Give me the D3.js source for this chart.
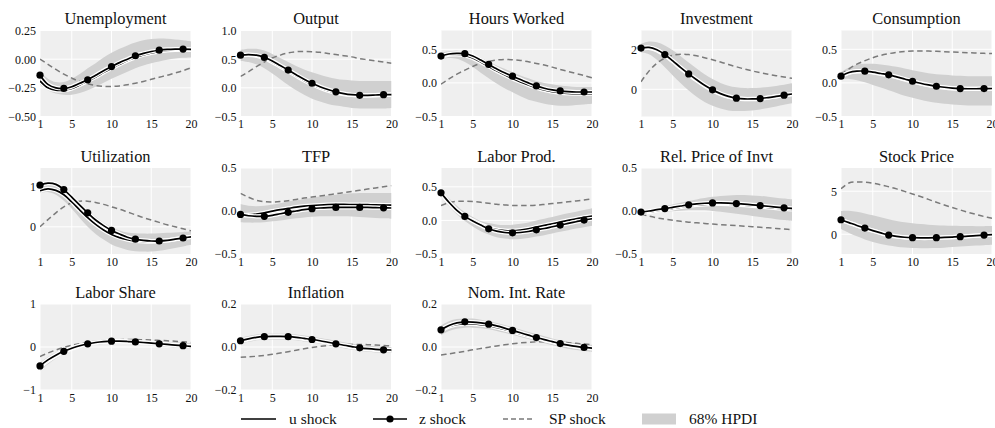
<!DOCTYPE html>
<html>
<head>
<meta charset="utf-8">
<script src="https://cdn.jsdelivr.net/npm/d3@7"></script>
<style>
  html, body { margin: 0; padding: 0; background: #fff; }
  svg { display: block; }
</style>
</head>
<body>
<svg id="chart" width="995" height="428"></svg>
<script>
// Horizon (quarters)
const periods = d3.range(1, 21);
const xTickValues = [1, 5, 10, 15, 20];

// Unemployment
const unempU  = [-0.19,-0.25,-0.27,-0.27,-0.255,-0.225,-0.19,-0.155,-0.115,-0.08,-0.045,-0.012,0.015,0.038,0.055,0.068,0.076,0.08,0.082,0.08];
const unempZ  = [-0.14,-0.22,-0.25,-0.255,-0.24,-0.21,-0.18,-0.14,-0.10,-0.065,-0.03,0.00,0.03,0.05,0.067,0.078,0.085,0.088,0.088,0.085];
const unempSP = [0.00,-0.045,-0.09,-0.13,-0.165,-0.195,-0.215,-0.23,-0.237,-0.238,-0.233,-0.223,-0.21,-0.194,-0.176,-0.158,-0.14,-0.12,-0.1,-0.075];
const unempLo = [-0.22,-0.27,-0.30,-0.31,-0.31,-0.295,-0.27,-0.24,-0.205,-0.17,-0.14,-0.11,-0.08,-0.055,-0.035,-0.02,-0.005,0.005,0.012,0.015];
const unempHi = [-0.11,-0.17,-0.2,-0.2,-0.17,-0.13,-0.08,-0.035,0.015,0.055,0.09,0.12,0.145,0.165,0.175,0.18,0.178,0.172,0.165,0.155];

// Output
const outU  = [0.57,0.575,0.56,0.515,0.45,0.37,0.29,0.21,0.13,0.06,0.0,-0.05,-0.085,-0.11,-0.125,-0.135,-0.135,-0.13,-0.125,-0.12];
const outZ  = [0.57,0.58,0.57,0.53,0.47,0.39,0.31,0.23,0.15,0.08,0.02,-0.03,-0.07,-0.10,-0.12,-0.13,-0.13,-0.125,-0.12,-0.12];
const outSP = [0.2,0.28,0.37,0.45,0.52,0.57,0.61,0.63,0.635,0.63,0.62,0.6,0.58,0.56,0.54,0.51,0.49,0.47,0.45,0.43];
const outLo = [0.47,0.45,0.41,0.34,0.25,0.15,0.05,-0.04,-0.12,-0.19,-0.24,-0.28,-0.31,-0.33,-0.35,-0.36,-0.36,-0.36,-0.36,-0.35];
const outHi = [0.66,0.68,0.68,0.65,0.59,0.52,0.45,0.38,0.32,0.27,0.23,0.19,0.16,0.14,0.13,0.12,0.12,0.12,0.12,0.12];

// Hours Worked
const hoursU  = [0.39,0.42,0.425,0.41,0.37,0.31,0.245,0.18,0.12,0.065,0.015,-0.03,-0.07,-0.105,-0.13,-0.145,-0.155,-0.16,-0.16,-0.16];
const hoursZ  = [0.40,0.43,0.44,0.435,0.40,0.34,0.275,0.21,0.15,0.10,0.05,0.0,-0.045,-0.08,-0.105,-0.12,-0.13,-0.135,-0.135,-0.135];
const hoursSP = [-0.02,0.06,0.13,0.19,0.245,0.29,0.32,0.34,0.35,0.345,0.335,0.315,0.29,0.265,0.235,0.2,0.17,0.14,0.11,0.075];
const hoursLo = [0.35,0.37,0.36,0.31,0.24,0.15,0.07,-0.01,-0.08,-0.14,-0.2,-0.25,-0.28,-0.31,-0.33,-0.34,-0.34,-0.33,-0.32,-0.31];
const hoursHi = [0.45,0.47,0.48,0.46,0.42,0.37,0.32,0.26,0.21,0.16,0.11,0.07,0.03,0.0,-0.02,-0.04,-0.05,-0.06,-0.06,-0.06];

// Investment
const invU  = [2.07,2.1,1.98,1.73,1.41,1.07,0.75,0.45,0.18,-0.05,-0.24,-0.38,-0.46,-0.5,-0.5,-0.47,-0.42,-0.36,-0.3,-0.25];
const invZ  = [2.09,2.12,2.0,1.76,1.44,1.1,0.78,0.48,0.2,-0.03,-0.22,-0.36,-0.45,-0.49,-0.49,-0.47,-0.42,-0.36,-0.3,-0.24];
const invSP = [0.38,0.92,1.32,1.58,1.72,1.78,1.76,1.7,1.6,1.5,1.38,1.26,1.14,1.03,0.93,0.84,0.76,0.69,0.62,0.56];
const invLo = [1.88,1.78,1.5,1.12,0.7,0.3,-0.06,-0.38,-0.64,-0.84,-0.98,-1.07,-1.1,-1.1,-1.07,-1.02,-0.95,-0.87,-0.79,-0.71];
const invHi = [2.3,2.42,2.38,2.22,1.98,1.68,1.36,1.05,0.76,0.52,0.32,0.18,0.1,0.06,0.06,0.08,0.12,0.17,0.23,0.3];

// Consumption
const consU  = [0.095,0.15,0.17,0.17,0.155,0.135,0.113,0.084,0.052,0.02,-0.01,-0.035,-0.055,-0.07,-0.081,-0.088,-0.09,-0.09,-0.088,-0.086];
const consZ  = [0.10,0.155,0.175,0.175,0.16,0.14,0.12,0.09,0.058,0.025,-0.005,-0.03,-0.05,-0.065,-0.077,-0.084,-0.087,-0.087,-0.085,-0.083];
const consSP = [0.13,0.21,0.28,0.33,0.375,0.41,0.435,0.455,0.468,0.474,0.476,0.474,0.47,0.465,0.46,0.455,0.45,0.445,0.44,0.437];
const consLo = [0.05,0.06,0.04,0.01,-0.03,-0.07,-0.11,-0.15,-0.19,-0.22,-0.25,-0.275,-0.295,-0.31,-0.32,-0.33,-0.335,-0.335,-0.335,-0.335];
const consHi = [0.16,0.23,0.27,0.285,0.285,0.275,0.26,0.24,0.215,0.19,0.165,0.145,0.13,0.12,0.11,0.105,0.1,0.1,0.1,0.1];

// Utilization
const utilU  = [0.9,0.95,0.91,0.8,0.62,0.42,0.23,0.06,-0.08,-0.19,-0.27,-0.32,-0.35,-0.365,-0.37,-0.36,-0.34,-0.31,-0.28,-0.25];
const utilZ  = [1.04,1.09,1.06,0.93,0.74,0.54,0.35,0.17,0.03,-0.09,-0.18,-0.26,-0.31,-0.34,-0.355,-0.355,-0.34,-0.31,-0.28,-0.25];
const utilSP = [0.0,0.18,0.35,0.5,0.6,0.64,0.64,0.61,0.56,0.5,0.44,0.37,0.3,0.23,0.17,0.11,0.05,0.0,-0.05,-0.1];
const utilLo = [0.85,0.87,0.8,0.65,0.45,0.22,0.0,-0.18,-0.32,-0.44,-0.52,-0.58,-0.61,-0.62,-0.62,-0.6,-0.57,-0.53,-0.49,-0.45];
const utilHi = [1.05,1.1,1.07,0.95,0.78,0.6,0.42,0.25,0.1,-0.01,-0.09,-0.14,-0.16,-0.17,-0.17,-0.16,-0.15,-0.14,-0.13,-0.12];

// TFP
const tfpU  = [-0.05,-0.045,-0.035,-0.02,-0.002,0.015,0.03,0.045,0.056,0.064,0.07,0.074,0.076,0.076,0.075,0.074,0.073,0.072,0.07,0.068];
const tfpZ  = [-0.04,-0.055,-0.062,-0.062,-0.05,-0.032,-0.015,0.0,0.015,0.027,0.035,0.04,0.042,0.043,0.043,0.042,0.041,0.039,0.037,0.035];
const tfpSP = [0.205,0.16,0.125,0.108,0.105,0.11,0.12,0.135,0.15,0.163,0.175,0.188,0.2,0.215,0.228,0.24,0.255,0.268,0.282,0.295];
const tfpLo = [-0.13,-0.135,-0.135,-0.13,-0.12,-0.11,-0.095,-0.085,-0.075,-0.068,-0.062,-0.06,-0.06,-0.062,-0.065,-0.07,-0.075,-0.08,-0.085,-0.09];
const tfpHi = [0.08,0.06,0.055,0.06,0.075,0.09,0.11,0.125,0.14,0.155,0.17,0.18,0.19,0.2,0.205,0.21,0.21,0.21,0.21,0.21];

// Labor productivity
const lpU  = [0.40,0.26,0.145,0.06,0.0,-0.06,-0.105,-0.135,-0.15,-0.155,-0.145,-0.125,-0.1,-0.075,-0.05,-0.025,0.0,0.025,0.045,0.065];
const lpZ  = [0.41,0.27,0.15,0.06,-0.01,-0.07,-0.125,-0.16,-0.18,-0.185,-0.18,-0.165,-0.14,-0.12,-0.095,-0.07,-0.045,-0.02,0.005,0.025];
const lpSP = [0.22,0.265,0.285,0.285,0.28,0.27,0.255,0.24,0.23,0.222,0.22,0.222,0.228,0.238,0.25,0.263,0.277,0.29,0.305,0.32];
const lpLo = [0.35,0.21,0.09,-0.01,-0.09,-0.16,-0.21,-0.25,-0.27,-0.28,-0.275,-0.26,-0.24,-0.22,-0.195,-0.17,-0.145,-0.12,-0.1,-0.08];
const lpHi = [0.45,0.33,0.22,0.12,0.05,-0.01,-0.04,-0.06,-0.07,-0.065,-0.05,-0.03,0.0,0.025,0.05,0.08,0.105,0.13,0.155,0.18];

// Relative price of investment
const rpiU  = [-0.022,-0.012,0.003,0.016,0.031,0.046,0.06,0.07,0.078,0.082,0.082,0.079,0.074,0.068,0.06,0.051,0.043,0.034,0.025,0.018];
const rpiZ  = [-0.012,0.0,0.015,0.028,0.043,0.058,0.072,0.082,0.09,0.094,0.094,0.091,0.086,0.08,0.072,0.063,0.055,0.046,0.037,0.03];
const rpiSP = [-0.035,-0.06,-0.08,-0.095,-0.108,-0.12,-0.13,-0.138,-0.145,-0.152,-0.158,-0.164,-0.17,-0.176,-0.182,-0.189,-0.196,-0.203,-0.21,-0.217];
const rpiLo = [-0.03,-0.025,-0.018,-0.01,-0.003,0.003,0.008,0.01,0.008,0.0,-0.01,-0.02,-0.032,-0.045,-0.058,-0.07,-0.082,-0.095,-0.105,-0.115];
const rpiHi = [0.0,0.02,0.035,0.055,0.075,0.095,0.115,0.135,0.15,0.165,0.175,0.18,0.185,0.185,0.18,0.175,0.165,0.155,0.145,0.135];

// Stock price
const stockU  = [1.66,1.33,1.0,0.7,0.4,0.13,-0.12,-0.27,-0.37,-0.42,-0.44,-0.44,-0.42,-0.38,-0.34,-0.29,-0.23,-0.17,-0.11,-0.06];
const stockZ  = [1.68,1.35,1.02,0.72,0.42,0.15,-0.1,-0.25,-0.35,-0.4,-0.42,-0.42,-0.4,-0.37,-0.33,-0.28,-0.22,-0.16,-0.1,-0.05];
const stockSP = [5.28,5.95,6.08,6.05,5.93,5.75,5.52,5.27,4.98,4.68,4.38,4.05,3.72,3.4,3.1,2.82,2.55,2.3,2.06,1.85];
const stockLo = [0.6,0.15,-0.25,-0.6,-0.9,-1.13,-1.32,-1.45,-1.55,-1.6,-1.62,-1.62,-1.6,-1.56,-1.5,-1.44,-1.38,-1.32,-1.27,-1.22];
const stockHi = [2.7,2.72,2.6,2.42,2.2,1.98,1.75,1.55,1.4,1.28,1.18,1.1,1.05,1.01,0.98,0.96,0.95,0.94,0.94,0.95];

// Labor share
const lsU  = [-0.47,-0.32,-0.2,-0.11,-0.04,0.02,0.07,0.1,0.12,0.13,0.13,0.125,0.115,0.1,0.088,0.073,0.058,0.044,0.03,0.018];
const lsZ  = [-0.44,-0.3,-0.19,-0.1,-0.03,0.03,0.075,0.105,0.125,0.135,0.135,0.128,0.118,0.105,0.09,0.075,0.06,0.045,0.03,0.015];
const lsSP = [-0.22,-0.14,-0.07,-0.01,0.04,0.08,0.11,0.135,0.152,0.163,0.17,0.173,0.172,0.168,0.162,0.154,0.145,0.133,0.12,0.105];
const lsLo = [-0.55,-0.4,-0.27,-0.17,-0.09,-0.03,0.02,0.05,0.07,0.08,0.08,0.075,0.065,0.05,0.035,0.02,0.0,-0.015,-0.03,-0.045];
const lsHi = [-0.36,-0.23,-0.13,-0.05,0.02,0.075,0.115,0.145,0.165,0.175,0.175,0.17,0.16,0.15,0.14,0.13,0.12,0.11,0.1,0.09];

// Inflation
const inflU  = [0.027,0.036,0.043,0.046,0.047,0.047,0.046,0.043,0.038,0.033,0.027,0.02,0.013,0.006,0.0,-0.006,-0.01,-0.013,-0.015,-0.016];
const inflZ  = [0.029,0.038,0.045,0.048,0.049,0.049,0.048,0.045,0.04,0.035,0.029,0.022,0.015,0.008,0.002,-0.004,-0.008,-0.011,-0.013,-0.014];
const inflSP = [-0.048,-0.046,-0.043,-0.039,-0.034,-0.028,-0.022,-0.015,-0.008,-0.002,0.003,0.007,0.01,0.011,0.012,0.012,0.011,0.009,0.007,0.005];
const inflLo = [0.016,0.024,0.031,0.034,0.035,0.035,0.034,0.031,0.026,0.021,0.015,0.008,0.001,-0.006,-0.012,-0.018,-0.022,-0.025,-0.027,-0.028];
const inflHi = [0.042,0.051,0.058,0.061,0.062,0.062,0.061,0.058,0.053,0.048,0.042,0.036,0.029,0.022,0.016,0.01,0.006,0.003,0.001,0.0];

// Nominal interest rate
const rateU  = [0.075,0.095,0.105,0.108,0.107,0.104,0.099,0.091,0.082,0.072,0.061,0.051,0.041,0.032,0.023,0.015,0.008,0.002,-0.003,-0.006];
const rateZ  = [0.08,0.1,0.112,0.117,0.116,0.112,0.106,0.098,0.088,0.077,0.066,0.055,0.044,0.034,0.025,0.016,0.009,0.003,-0.002,-0.005];
const rateSP = [-0.037,-0.032,-0.026,-0.02,-0.013,-0.007,-0.001,0.005,0.01,0.015,0.019,0.022,0.024,0.025,0.024,0.022,0.02,0.017,0.014,0.011];
const rateLo = [0.055,0.075,0.085,0.09,0.09,0.087,0.082,0.075,0.066,0.057,0.047,0.037,0.027,0.017,0.008,0.0,-0.008,-0.014,-0.019,-0.023];
const rateHi = [0.1,0.12,0.13,0.133,0.132,0.127,0.12,0.112,0.102,0.092,0.081,0.07,0.06,0.05,0.04,0.031,0.024,0.018,0.013,0.01];

// Panel titles, axis limits and tick labels
const titles = ["Unemployment","Output","Hours Worked","Investment","Consumption",
                "Utilization","TFP","Labor Prod.","Rel. Price of Invt","Stock Price",
                "Labor Share","Inflation","Nom. Int. Rate"];
const yDomains = [[-0.5,0.25],[-0.5,1.0],[-0.5,0.78],[-1.38,2.98],[-0.5,0.78],
                  [-0.68,1.47],[-0.5,0.5],[-0.5,0.78],[-0.5,0.5],[-2.3,7.7],
                  [-1,1],[-0.2,0.2],[-0.2,0.2]];
const yTicks = [[-0.5,-0.25,0,0.25],[-0.5,0,0.5,1.0],[-0.5,0,0.5],[0,2],[-0.5,0,0.5],
                [0,1],[-0.5,0,0.5],[-0.5,0,0.5],[-0.5,0,0.5],[0,5],
                [-1,0,1],[-0.2,0,0.2],[-0.2,0,0.2]];
const yFormats = [".2f",".1f",".1f","d",".1f","d",".1f",".1f",".1f","d","d",".1f",".1f"];
const legendLabels = ["u shock","z shock","SP shock","68% HPDI"];

const seriesU  = [unempU,outU,hoursU,invU,consU,utilU,tfpU,lpU,rpiU,stockU,lsU,inflU,rateU];
const seriesZ  = [unempZ,outZ,hoursZ,invZ,consZ,utilZ,tfpZ,lpZ,rpiZ,stockZ,lsZ,inflZ,rateZ];
const seriesSP = [unempSP,outSP,hoursSP,invSP,consSP,utilSP,tfpSP,lpSP,rpiSP,stockSP,lsSP,inflSP,rateSP];
const seriesLo = [unempLo,outLo,hoursLo,invLo,consLo,utilLo,tfpLo,lpLo,rpiLo,stockLo,lsLo,inflLo,rateLo];
const seriesHi = [unempHi,outHi,hoursHi,invHi,consHi,utilHi,tfpHi,lpHi,rpiHi,stockHi,lsHi,inflHi,rateHi];

// Layout
const colX = [40, 240.5, 441, 641, 841];
const rowY = [30.5, 168, 304];
const pw = 151, ph = 86;
const FONT = '"Liberation Serif", "Times New Roman", serif';
const colors = { bg: "#efefef", band: "#d0d0d0", grid: "#ffffff", line: "#000000", sp: "#7a7a7a", text: "#111111" };

const svg = d3.select("#chart");

function styleText(sel, size) {
  sel.style("font-family", FONT).style("font-size", size + "px").style("fill", colors.text);
}

titles.forEach((title, i) => {
  const col = i % 5, row = Math.floor(i / 5);
  const g = svg.append("g").attr("transform", `translate(${colX[col]},${rowY[row]})`);

  const x = d3.scaleLinear().domain([1, 20]).range([0, pw]);
  const y = d3.scaleLinear().domain(yDomains[i]).range([ph, 0]);

  g.append("rect").attr("width", pw).attr("height", ph).attr("fill", colors.bg);

  // white grid
  g.selectAll(".vg").data(xTickValues).join("line")
    .attr("x1", d => x(d)).attr("x2", d => x(d)).attr("y1", 0).attr("y2", ph)
    .attr("stroke", colors.grid).attr("stroke-width", 1);
  g.selectAll(".hg").data(yTicks[i]).join("line")
    .attr("x1", 0).attr("x2", pw).attr("y1", d => y(d)).attr("y2", d => y(d))
    .attr("stroke", colors.grid).attr("stroke-width", 1);

  const clip = "clip" + i;
  g.append("clipPath").attr("id", clip).append("rect").attr("width", pw).attr("height", ph);
  const plot = g.append("g").attr("clip-path", `url(#${clip})`);

  // 68% band
  const area = d3.area().curve(d3.curveCatmullRom)
    .x((d, k) => x(periods[k])).y0(d => y(d[0])).y1(d => y(d[1]));
  plot.append("path").datum(seriesLo[i].map((v, k) => [v, seriesHi[i][k]]))
    .attr("d", area).attr("fill", colors.band);

  const line = d3.line().curve(d3.curveCatmullRom).x((d, k) => x(periods[k])).y(d => y(d));

  // SP shock
  plot.append("path").datum(seriesSP[i]).attr("d", line)
    .attr("fill", "none").attr("stroke", colors.sp).attr("stroke-width", 1.5)
    .attr("stroke-dasharray", "5.5,3.5");

  // u shock and z shock lines, each with a thin white outline
  [seriesU[i], seriesZ[i]].forEach(s => {
    plot.append("path").datum(s).attr("d", line)
      .attr("fill", "none").attr("stroke", "#ffffff").attr("stroke-width", 4.2);
    plot.append("path").datum(s).attr("d", line)
      .attr("fill", "none").attr("stroke", colors.line).attr("stroke-width", 1.7);
  });

  // z shock markers every third period
  const markIdx = d3.range(0, 20, 3);
  g.selectAll(".mk").data(markIdx).join("circle")
    .attr("cx", k => x(periods[k])).attr("cy", k => y(seriesZ[i][k]))
    .attr("r", 3.6).attr("fill", colors.line);

  // axes (labels only)
  const fmt = d3.format(yFormats[i]);
  const yAxis = d3.axisLeft(y).tickValues(yTicks[i]).tickFormat(fmt).tickSize(0).tickPadding(4);
  const ya = g.append("g").call(yAxis);
  ya.select(".domain").remove();
  styleText(ya.selectAll("text"), 12);

  const xAxis = d3.axisBottom(x).tickValues(xTickValues).tickFormat(d3.format("d")).tickSize(0).tickPadding(3);
  const xa = g.append("g").attr("transform", `translate(0,${ph})`).call(xAxis);
  xa.select(".domain").remove();
  styleText(xa.selectAll("text"), 12);

  const t = g.append("text").attr("x", pw / 2).attr("y", -6.5).attr("text-anchor", "middle").text(title);
  styleText(t, 16.4);
});

// Legend
const lg = svg.append("g").attr("transform", "translate(0,419)");
const lfs = 15.5;
lg.append("line").attr("x1", 241).attr("x2", 276).attr("y1", 0).attr("y2", 0)
  .attr("stroke", "#000").attr("stroke-width", 1.7);
styleText(lg.append("text").attr("x", 289).attr("y", 5).text(legendLabels[0]), lfs);

lg.append("line").attr("x1", 373).attr("x2", 407).attr("y1", 0).attr("y2", 0)
  .attr("stroke", "#000").attr("stroke-width", 1.7);
lg.append("circle").attr("cx", 390).attr("cy", 0).attr("r", 3.6).attr("fill", "#000");
styleText(lg.append("text").attr("x", 419).attr("y", 5).text(legendLabels[1]), lfs);

lg.append("line").attr("x1", 503).attr("x2", 534).attr("y1", 0).attr("y2", 0)
  .attr("stroke", colors.sp).attr("stroke-width", 1.5).attr("stroke-dasharray", "5,3");
styleText(lg.append("text").attr("x", 549).attr("y", 5).text(legendLabels[2]), lfs);

lg.append("rect").attr("x", 642).attr("y", -5.5).attr("width", 34).attr("height", 11).attr("fill", colors.band);
styleText(lg.append("text").attr("x", 689).attr("y", 5).text(legendLabels[3]), lfs);
</script>
</body>
</html>
